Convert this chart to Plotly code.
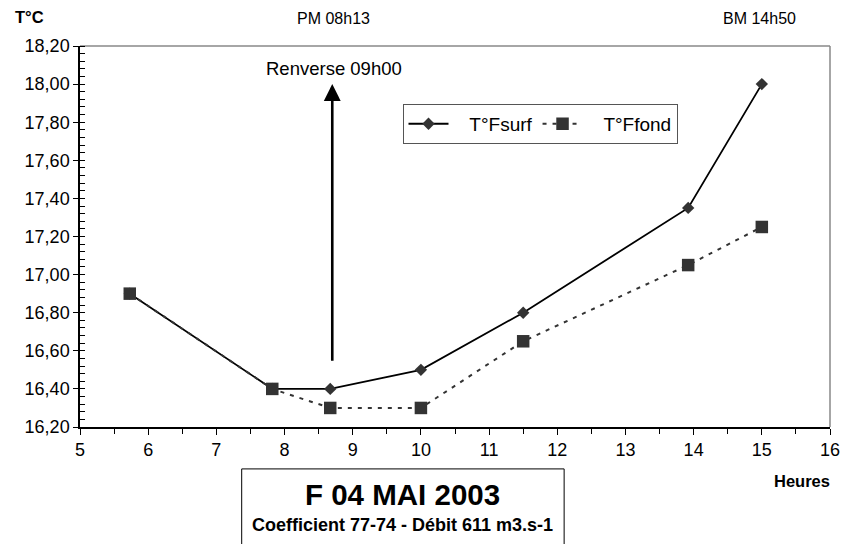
import plotly.graph_objects as go

# Hours of the measurements (decimal hours)
heures = [5.73, 7.82, 8.67, 10.0, 11.5, 13.92, 15.0]
# Surface and bottom temperatures (°C)
t_surf = [16.90, 16.40, 16.40, 16.50, 16.80, 17.35, 18.00]
t_fond = [16.90, 16.40, 16.30, 16.30, 16.65, 17.05, 17.25]

x_range = [5, 16]
y_range = [16.2, 18.2]

renverse_heure = 8.7
renverse_bas = 16.54
renverse_haut = 18.0

FONT = "Liberation Sans, Arial, sans-serif"
PAD = "\u00a0"

fig = go.Figure()

fig.add_trace(go.Scatter(
    x=heures, y=t_surf, name=PAD * 3 + "T°Fsurf", mode="lines+markers",
    line=dict(color="#000000", width=1.8),
    marker=dict(symbol="diamond", size=9.5, color="#333333"),
))
fig.add_trace(go.Scatter(
    x=heures, y=t_fond, name=PAD * 3 + "T°Ffond", mode="lines+markers",
    line=dict(color="#333333", width=2, dash="4px,6px"),
    marker=dict(symbol="square", size=12.5, color="#333333"),
))
# invisible trace carrying the inner major ticks of the y axis
fig.add_trace(go.Scatter(x=[x_range[0]], y=[y_range[0]], yaxis="y2",
                         mode="markers", marker=dict(opacity=0),
                         showlegend=False, hoverinfo="skip"))

fig.update_layout(
    width=852, height=544,
    margin=dict(l=80, r=16, t=46, b=117),
    paper_bgcolor="white", plot_bgcolor="white",
    separators=", ",
    font=dict(family=FONT, size=16, color="#000000"),
    showlegend=True,
    legend=dict(
        orientation="h", x=0.43, y=0.848, xanchor="left", yanchor="top",
        bordercolor="#555555", borderwidth=1, bgcolor="white",
        font=dict(size=19, family=FONT), itemwidth=40,
        tracegroupgap=0,
    ),
    xaxis=dict(
        range=x_range, dtick=1, tick0=5, showgrid=False, zeroline=False,
        showline=True, linecolor="#000000", linewidth=1.5,
        ticks="outside", ticklen=6, tickwidth=1.2, tickcolor="#000000",
        minor=dict(dtick=0.5, ticks="outside", ticklen=5, tickcolor="#000000", tickwidth=1),
        tickfont=dict(size=18, family=FONT),
    ),
    yaxis=dict(
        range=y_range, dtick=0.2, tick0=16.2, tickformat=".2f",
        showgrid=False, zeroline=False,
        showline=True, linecolor="#000000", linewidth=1.5,
        ticks="outside", ticklen=5, tickwidth=1.2, tickcolor="#000000",
        minor=dict(dtick=0.04, tick0=16.2, ticks="inside", ticklen=5, tickcolor="#000000", tickwidth=1),
        tickfont=dict(size=18, family=FONT),
    ),
    yaxis2=dict(
        range=y_range, dtick=0.2, tick0=16.2, overlaying="y", side="left",
        showticklabels=False, showgrid=False, zeroline=False, showline=False,
        ticks="inside", ticklen=5, tickwidth=1.2, tickcolor="#000000",
    ),
)

# grey frame on top and right of the plot area
fig.add_shape(type="line", xref="paper", yref="paper", x0=0, x1=1, y0=1, y1=1,
              line=dict(color="#888888", width=1.5), layer="below")
fig.add_shape(type="line", xref="paper", yref="paper", x0=1, x1=1, y0=0, y1=1,
              line=dict(color="#888888", width=1.5), layer="below")

# caption box under the chart
fig.add_shape(type="rect", xref="paper", yref="paper",
              x0=0.2156, x1=0.6455, y0=-0.36, y1=-0.110,
              line=dict(color="#000000", width=1), fillcolor="rgba(0,0,0,0)")

# reversal arrow
fig.add_annotation(x=renverse_heure, y=renverse_haut, ax=renverse_heure, ay=renverse_bas,
                   xref="x", yref="y", axref="x", ayref="y",
                   showarrow=True, arrowhead=2, arrowsize=1.3, arrowwidth=2.6,
                   arrowcolor="#000000", text="")

ann = [
    dict(text="Renverse 09h00", x=8.72, y=18.083, xref="x", yref="y", font=dict(size=18.5)),
    dict(text="PM 08h13", x=8.72, y=1.071, xref="x", yref="paper", font=dict(size=16)),
    dict(text="BM 14h50", x=14.96, y=1.071, xref="x", yref="paper", font=dict(size=16)),
    dict(text="<b>T°C</b>", x=-0.067, y=1.076, xref="paper", yref="paper", font=dict(size=16.5)),
    dict(text="<b>Heures</b>", x=0.962, y=-0.142, xref="paper", yref="paper", font=dict(size=16.5)),
    dict(text="<b>F 04 MAI 2003</b>", x=0.43, y=-0.178, xref="paper", yref="paper", font=dict(size=29.5)),
    dict(text="<b>Coefficient 77-74 - Débit 611 m3.s-1</b>", x=0.43, y=-0.258,
         xref="paper", yref="paper", font=dict(size=18)),
]
for a in ann:
    fig.add_annotation(showarrow=False, xanchor="center", yanchor="middle",
                       font_family=FONT, **a)

fig.write_html("out.html")
